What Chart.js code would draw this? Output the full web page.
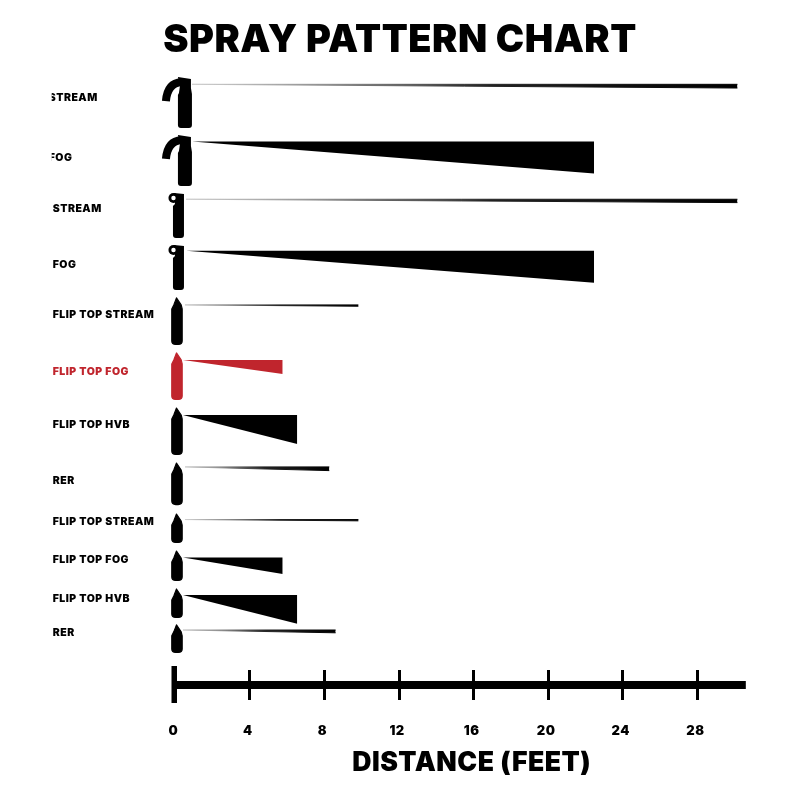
<!DOCTYPE html>
<html>
<head>
<meta charset="utf-8">
<style>html,body{margin:0;padding:0;background:#fff}canvas{display:block}</style>
<script src="https://cdn.jsdelivr.net/npm/chart.js@4"></script>
</head>
<body>
<canvas id="c" width="800" height="800"></canvas>
<script>
// ---- chart values (distances in feet) ----
const categories = ['STREAM','FOG','STREAM','FOG','FLIP TOP STREAM','FLIP TOP FOG','FLIP TOP HVB','RER','FLIP TOP STREAM','FLIP TOP FOG','FLIP TOP HVB','RER'];
const sprayRange = [30.15,22.46,30.15,22.46,9.82,5.76,6.54,8.26,9.82,5.76,6.54,8.6];
const sprayWidth = [0.2,1.72,0.18,1.72,0.07,0.75,1.56,0.2,0.07,0.89,1.55,0.15];
const nozzleDistance = [0.9,0.9,0.58,0.58,0.52,0.41,0.41,0.52,0.52,0.41,0.41,0.41];
const canisterKinds = ['gun','gun','flip','flip','cone','cone','cone','cone','cone','cone','cone','cone'];
const highlighted = [false,false,false,false,false,true,false,false,false,false,false,false];
const tickLabels = ['0','4','8','12','16','20','24','28'];

// ---- layout on the hidden vertical scale ----
const rowLevel = [0.77,3.85,6.95,9.72,12.63,15.59,18.55,21.34,24.17,26.21,28.23,30.11];
const labelLevel = [1.5,4.73,7.47,10.48,13.17,16.23,19.08,22.09,24.3,26.34,28.44,30.27];
const labelStart = [-6.79,-6.79,-6.575,-6.575,-6.575,-6.575,-6.575,-6.575,-6.575,-6.575,-6.575,-6.575];
const canisterTop = [0.38,3.49,6.61,9.41,12.2,15.16,18.12,21.08,23.82,25.81,27.85,29.78];
const canisterBottom = [3.12,6.24,9.03,11.83,14.78,17.74,20.7,23.39,25.43,27.47,29.46,31.34];

const FONT = 'Inter, "Noto Sans", sans-serif';
const RED = '#c0252d', BLACK = '#000';
const isStream = i => sprayWidth[i] < 0.5;

function streamGradient(i){
  return function(ctx){
    const chart = ctx.chart;
    if(!chart.chartArea) return BLACK;
    const x = chart.scales.x;
    const g = chart.ctx.createLinearGradient(x.getPixelForValue(nozzleDistance[i]),0,x.getPixelForValue(sprayRange[i]),0);
    g.addColorStop(0,'#d0d0d0');
    g.addColorStop(0.25,'#8a8a8a');
    g.addColorStop(0.55,'#222');
    g.addColorStop(1,'#000');
    return g;
  };
}

const datasets = [];
categories.forEach((name,i)=>{
  const y = rowLevel[i];
  const stream = isStream(i);
  const solid = highlighted[i] ? RED : BLACK;
  datasets.push({label:name+' upper edge',data:[{x:nozzleDistance[i],y:y},{x:sprayRange[i],y:y}],
    borderWidth:stream?1:0,pointRadius:0,fill:false,tension:0,borderColor:stream?streamGradient(i):'transparent'});
  datasets.push({label:name,data:[{x:nozzleDistance[i],y:y},{x:sprayRange[i],y:y+sprayWidth[i]}],
    borderWidth:stream?1:0,pointRadius:0,fill:'-1',tension:0,
    borderColor:stream?streamGradient(i):'transparent',
    backgroundColor:stream?streamGradient(i):solid});
});

function drawCanister(c,kind,cx,top,bottom){
  c.lineJoin='round';
  if(kind==='gun'){
    const L=cx-7.5,R=cx+7.5;
    c.beginPath();
    c.moveTo(L+2,top+16);c.lineTo(L+3,top+9);c.lineTo(L+1,top);c.lineTo(R-1,top+2);c.lineTo(R-1,top+11);c.lineTo(R,top+17);
    c.lineTo(R,bottom-3);c.quadraticCurveTo(R,bottom,R-3,bottom);c.lineTo(L+4,bottom);c.quadraticCurveTo(L+1,bottom,L+1,bottom-3);
    c.lineTo(L+1,top+18);c.closePath();c.fill();
    c.beginPath();c.lineWidth=8;c.lineCap='butt';
    c.moveTo(cx-3,top+5);c.quadraticCurveTo(cx-17,top+6,cx-18.5,top+24);c.stroke();
  }else if(kind==='flip'){
    const L=cx-5.5,R=cx+5.5;
    c.beginPath();
    c.moveTo(L+1,top);c.lineTo(R,top+1);c.lineTo(R,top+12);
    c.lineTo(R,bottom-3);c.quadraticCurveTo(R,bottom,R-3,bottom);c.lineTo(L+3,bottom);c.quadraticCurveTo(L,bottom,L,bottom-3);
    c.lineTo(L,top+13);c.lineTo(L+2,top+11);c.closePath();c.fill();
    c.beginPath();c.arc(L+0.5,top+5,5,0,Math.PI*2);c.fill();
    c.beginPath();c.fillStyle='#fff';c.arc(L+0.5,top+5,2.2,0,Math.PI*2);c.fill();
  }else{
    const L=cx-5.2,R=cx+5.2;
    c.beginPath();
    c.moveTo(cx-0.5,top+1);c.lineTo(R-1,top+8);c.lineTo(R,top+12);
    c.lineTo(R,bottom-4);c.quadraticCurveTo(R,bottom-0.5,R-4,bottom-0.5);c.lineTo(L+4,bottom-0.5);c.quadraticCurveTo(L,bottom-0.5,L,bottom-4);
    c.lineTo(L,top+12);c.lineTo(L+2,top+8);c.closePath();c.fill();
    c.lineWidth=1.2;c.stroke();
  }
}

const artwork = {
  id:'artwork',
  beforeDraw(chart){
    if('letterSpacing' in chart.ctx) chart.ctx.letterSpacing = '0.5px';
  },
  afterDatasetsDraw(chart){
    const c = chart.ctx, x = chart.scales.x, y = chart.scales.y;
    const axisTop = chart.chartArea.bottom;
    c.save();
    // axis bar and heavy origin mark
    c.fillStyle = BLACK;
    c.fillRect(x.getPixelForValue(0)-1, axisTop+11, x.getPixelForValue(30.6)-x.getPixelForValue(0)+1, 8);
    c.fillRect(x.getPixelForValue(0)-3.8, axisTop-4, 5.5, 37);
    // canisters
    const canisterAxis = {gun:0.49, flip:0.17, cone:0.09};
    categories.forEach((_,i)=>{
      const col = highlighted[i] ? RED : BLACK;
      c.save();
      c.fillStyle = col; c.strokeStyle = col;
      drawCanister(c,canisterKinds[i],x.getPixelForValue(canisterAxis[canisterKinds[i]]),
        y.getPixelForValue(canisterTop[i]),y.getPixelForValue(canisterBottom[i]));
      c.restore();
    });
    // row labels, cropped at the left edge as in the source image
    c.beginPath();
    c.rect(x.getPixelForValue(-6.63),0,400,800);
    c.clip();
    c.font = '900 10.5px '+FONT;
    c.textBaseline = 'middle';
    c.textAlign = 'left';
    categories.forEach((name,i)=>{
      c.fillStyle = highlighted[i] ? RED : BLACK;
      c.fillText(name,x.getPixelForValue(labelStart[i]),y.getPixelForValue(labelLevel[i]));
    });
    c.restore();
  }
};

const hiddenAxis = (position,width)=>({
  type:'linear',position,reverse:true,min:0,max:32.26,
  ticks:{display:false},grid:{display:false},border:{display:false},
  afterFit(s){s.width=width;}
});

new Chart(document.getElementById('c'),{
  type:'scatter',
  data:{datasets},
  plugins:[artwork],
  options:{
    responsive:false,
    animation:false,
    showLine:true,
    layout:{padding:0},
    plugins:{
      legend:{display:false},
      tooltip:{enabled:false},
      title:{display:true,text:'SPRAY PATTERN CHART',color:BLACK,
        font:{family:FONT,size:38,weight:'900'},padding:{top:18,bottom:6.4}},
      filler:{propagate:false}
    },
    scales:{
      x:{type:'linear',min:0,max:31.79,
        border:{display:false},
        grid:{drawOnChartArea:false,drawTicks:true,tickLength:30,tickWidth:3,tickColor:BLACK,color:BLACK},
        afterFit(s){s.height=130;},
        ticks:{stepSize:4,includeBounds:false,padding:23,color:BLACK,labelOffset:-2,maxRotation:0,
          font:{family:FONT,size:13,weight:'900'},
          callback(v){const i=tickLabels.indexOf(String(v));return i<0?'':tickLabels[i];}},
        title:{display:true,text:'DISTANCE (FEET)',color:BLACK,
          font:{family:FONT,size:26.6,weight:'900'},padding:{top:0,bottom:21}}
      },
      y:hiddenAxis('left',175.3),
      yRight:hiddenAxis('right',32)
    }
  }
});
</script>
</body>
</html>
